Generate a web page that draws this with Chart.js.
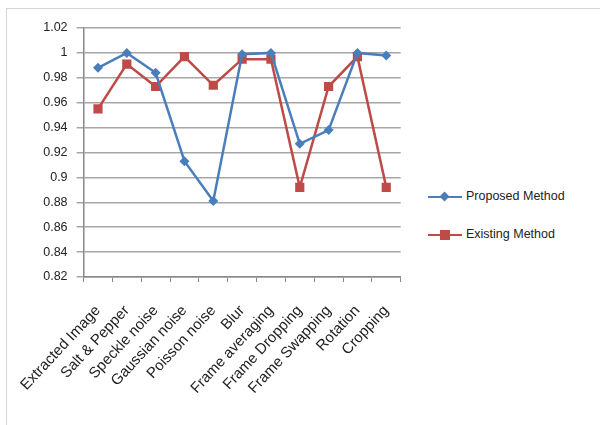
<!DOCTYPE html>
<html>
<head>
<meta charset="utf-8">
<script src="https://cdn.jsdelivr.net/npm/chart.js@4/dist/chart.umd.min.js"></script>
<style>
  html, body { margin: 0; padding: 0; background: #fff; }
  #wrap { position: relative; width: 600px; height: 425px; overflow: hidden; font-family: "Liberation Sans", Arial, sans-serif; }
  #frame { position: absolute; left: 6px; top: 8px; width: 700px; height: 500px; border-left: 1px solid #d4d4d4; border-top: 1px solid #d4d4d4; }
  #chartBox { position: absolute; left: 0; top: 0; width: 420px; height: 425px; }
  .legend { position: absolute; left: 428px; font-size: 12.5px; color: #222; }
  .legend .mk { position: absolute; left: 0; top: 7px; width: 34px; height: 2px; }
  .legend .txt { position: absolute; left: 38px; top: 0; white-space: nowrap; }
  .dia { position: absolute; left: 13px; top: -3px; width: 7px; height: 7px; transform: rotate(45deg); }
  .sq { position: absolute; left: 12px; top: -4px; width: 10px; height: 10px; }
</style>
</head>
<body>
<div id="wrap">
  <div id="frame"></div>
  <div id="chartBox"><canvas id="c"></canvas></div>
  <div class="legend" style="top:189px">
    <div class="mk" style="background:#4a7ebb"><div class="dia" style="background:#4a7ebb"></div></div>
    <div class="txt">Proposed Method</div>
  </div>
  <div class="legend" style="top:227px">
    <div class="mk" style="background:#be4b48"><div class="sq" style="background:#be4b48"></div></div>
    <div class="txt">Existing Method</div>
  </div>
</div>
<script>
const categories = ['Extracted Image', 'Salt & Pepper', 'Speckle noise', 'Gaussian noise', 'Poisson noise', 'Blur', 'Frame averaging', 'Frame Dropping', 'Frame Swapping', 'Rotation', 'Cropping'];
const proposedMethod = [0.988, 1.0, 0.984, 0.913, 0.881, 0.999, 1.0, 0.927, 0.938, 1.0, 0.998];
const existingMethod = [0.955, 0.991, 0.973, 0.997, 0.974, 0.995, 0.995, 0.892, 0.973, 0.997, 0.892];
const yTicks = [0.82, 0.84, 0.86, 0.88, 0.9, 0.92, 0.94, 0.96, 0.98, 1, 1.02];

const blue = '#4a7ebb';
const red = '#be4b48';
const yFont = { family: '"Liberation Sans", Arial, sans-serif', size: 12.5 };
const xFont = { family: '"Liberation Sans", Arial, sans-serif', size: 15 };

new Chart(document.getElementById('c'), {
  type: 'line',
  data: {
    labels: categories,
    datasets: [
      {
        label: 'Proposed Method',
        data: proposedMethod,
        borderColor: blue,
        backgroundColor: blue,
        borderWidth: 2.5,
        pointStyle: 'rectRot',
        pointRadius: 5,
        pointBorderWidth: 0,
        tension: 0
      },
      {
        label: 'Existing Method',
        data: existingMethod,
        borderColor: red,
        backgroundColor: red,
        borderWidth: 2.5,
        pointStyle: 'rect',
        pointRadius: 6.5,
        pointBorderWidth: 0,
        tension: 0
      }
    ]
  },
  options: {
    responsive: true,
    maintainAspectRatio: false,
    animation: false,
    layout: { padding: { left: 33, top: 28, right: 14, bottom: 0 } },
    plugins: { legend: { display: false }, tooltip: { enabled: false } },
    scales: {
      x: {
        offset: true,
        grid: { offset: true, drawOnChartArea: false, drawTicks: true, tickLength: 5, color: '#888' },
        border: { color: '#888', width: 1.5 },
        ticks: { color: '#222', font: xFont, minRotation: 47, maxRotation: 47, autoSkip: false, padding: 20 },
        afterFit: scale => { scale.height = 148; }
      },
      y: {
        min: 0.82,
        max: 1.02,
        afterBuildTicks: axis => { axis.ticks = yTicks.map(v => ({ value: v })); },
        grid: { color: '#a6a6a6', lineWidth: 1.5, tickLength: 7 },
        border: { color: '#888', width: 1.5 },
        ticks: { color: '#222', font: yFont, padding: 9, callback: v => String(Math.round(v * 100) / 100) }
      }
    }
  }
});
</script>
</body>
</html>
